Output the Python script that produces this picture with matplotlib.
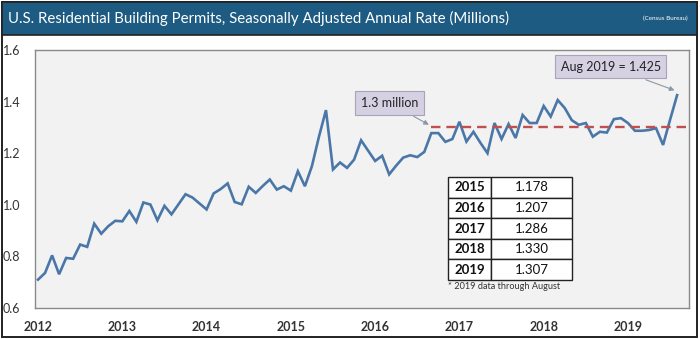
import matplotlib
matplotlib.use("Agg")
import matplotlib.pyplot as plt
from matplotlib.patches import Rectangle

plt.rcParams['font.family'] = ['Lato', 'DejaVu Sans']

# monthly permits, SAAR millions, Jan 2012 .. Aug 2019
permits_2012 = [0.710, 0.736, 0.804, 0.731, 0.794, 0.791, 0.846, 0.837, 0.927, 0.888, 0.917, 0.938]
permits_2013 = [0.936, 0.976, 0.934, 1.009, 1.001, 0.940, 0.996, 0.963, 1.002, 1.041, 1.028, 1.005]
permits_2014 = [0.982, 1.044, 1.061, 1.083, 1.011, 1.002, 1.070, 1.046, 1.073, 1.098, 1.059, 1.072]
permits_2015 = [1.055, 1.130, 1.072, 1.150, 1.264, 1.367, 1.137, 1.164, 1.143, 1.175, 1.250, 1.210]
permits_2016 = [1.170, 1.190, 1.118, 1.152, 1.183, 1.192, 1.185, 1.205, 1.278, 1.278, 1.244, 1.255]
permits_2017 = [1.322, 1.245, 1.283, 1.240, 1.200, 1.317, 1.255, 1.313, 1.259, 1.348, 1.317, 1.317]
permits_2018 = [1.383, 1.342, 1.406, 1.375, 1.328, 1.310, 1.317, 1.264, 1.283, 1.280, 1.332, 1.336]
permits_2019 = [1.317, 1.287, 1.287, 1.290, 1.297, 1.232, 1.330, 1.425]

table_years = ["2015", "2016", "2017", "2018", "2019"]
table_avgs = ["1.178", "1.207", "1.286", "1.330", "1.307"]
year_ticks = [2012, 2013, 2014, 2015, 2016, 2017, 2018, 2019]
y_ticks = [0.6, 0.8, 1.0, 1.2, 1.4, 1.6]

values = (permits_2012 + permits_2013 + permits_2014 + permits_2015
          + permits_2016 + permits_2017 + permits_2018 + permits_2019)
dates = [2012 + i / 12 for i in range(len(values))]

fig = plt.figure(figsize=(7, 3.39), dpi=100)
fig.patch.set_facecolor("white")

# outer frame and title bar
fig.patches.append(Rectangle((0.003, 0.006), 0.993, 0.988, transform=fig.transFigure,
                             fill=False, edgecolor="#222222", linewidth=1.4))
fig.patches.append(Rectangle((0.003, 0.898), 0.993, 0.096, transform=fig.transFigure,
                             facecolor="#1d5b82", edgecolor="#222222", linewidth=1.2))
fig.text(0.011, 0.946, "U.S. Residential Building Permits, Seasonally Adjusted Annual Rate (Millions)",
         color="white", fontsize=10.8, va="center", ha="left")
fig.text(0.982, 0.946, "(Census Bureau)", color="white", fontsize=4.5, va="center", ha="right")

ax = fig.add_axes([0.05, 0.0914, 0.934, 0.7611])
ax.set_facecolor("#f2f2f2")
for s in ax.spines.values():
    s.set_color("#8a8a8a")
    s.set_linewidth(1.0)

ax.plot(dates, values, color="#4a77a8", linewidth=1.9, solid_joinstyle="miter")
ax.plot([2016 + 8 / 12, 2019.70], [1.3, 1.3], color="#c0504d", linewidth=1.7,
        linestyle=(0, (4, 2.5)))

ax.set_xlim(2011.964, 2019.722)
ax.set_ylim(0.6, 1.6)
ax.set_xticks(year_ticks)
ax.set_xticklabels([str(y) for y in year_ticks], fontsize=9, fontweight="bold", color="#333333")
ax.set_yticks(y_ticks)
ax.set_yticklabels([f"{v:.1f}" for v in y_ticks], fontsize=9, color="#333333")
ax.tick_params(length=0)
ax.tick_params(axis="x", pad=9)
ax.tick_params(axis="y", pad=23)
for lab in ax.get_yticklabels():
    lab.set_horizontalalignment("left")

box = dict(boxstyle="square,pad=0.45", facecolor="#d6d0e3", edgecolor="#a9a3b8", linewidth=0.8)
arrow = dict(arrowstyle="-|>", color="#8a97a5", linewidth=0.8, mutation_scale=7)
ax.annotate("1.3 million", xy=(2016 + 8 / 12, 1.305), xytext=(2015.83, 1.395),
            fontsize=9, color="#222222", bbox=box, arrowprops=arrow, va="center", ha="left")
ax.annotate("Aug 2019 = 1.425", xy=(2019 + 7 / 12, 1.44), xytext=(2018.2, 1.535),
            fontsize=9, color="#222222", bbox=box, arrowprops=arrow, va="center", ha="left")

cells = [[y, v] for y, v in zip(table_years, table_avgs)]
tbl = ax.table(cellText=cells, colWidths=[0.35, 0.65], cellLoc="center",
               bbox=[0.6315, 0.1085, 0.1896, 0.399])
tbl.auto_set_font_size(False)
for (r, c), cell in tbl.get_celld().items():
    cell.set_facecolor("white")
    cell.set_edgecolor("#222222")
    cell.set_linewidth(1.0)
    cell.get_text().set_fontsize(9.5)
    cell.get_text().set_color("#111111")
    if c == 0:
        cell.get_text().set_fontweight("bold")
ax.text(0.6315, 0.085, "* 2019 data through August", transform=ax.transAxes,
        fontsize=6.6, color="#333333", ha="left", va="center")

fig.savefig("out.png", dpi=100)
